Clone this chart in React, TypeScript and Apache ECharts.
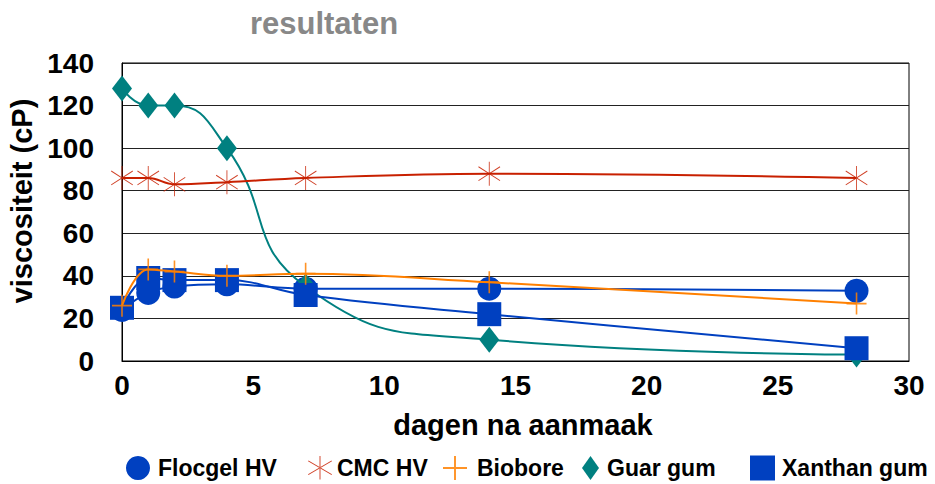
import React, { useEffect, useRef } from "react";
import * as echarts from "echarts";

const days = [0, 1, 2, 4, 7, 14, 28];
const flocgel = [24, 32, 35, 36, 34, 34, 33];
const cmc = [86, 86, 83, 84, 86, 88, 86];
const biobore = [26, 43, 42, 40, 41, 37, 27];
const guar = [128, 120, 120, 100, 35, 10, 3];
const xanthan = [25, 39, 38, 38, 31, 22, 6];

const xTicks = [0, 5, 10, 15, 20, 25, 30];
const yTicks = [0, 20, 40, 60, 80, 100, 120, 140];

const FONT = "'Liberation Sans', Arial, sans-serif";
const BLUE = "#0040c0";
const RED = "#c82000";
const ORANGE = "#ff8000";
const TEAL = "#008080";

const ASTERISK =
  "path://M48,0 L52,0 L52,100 L48,100 Z M-1,22.7 L99,80.7 L101,77.3 L1,19.3 Z M1,80.7 L101,22.7 L99,19.3 L-1,77.3 Z";
const PLUS = "path://M46,0 L54,0 L54,46 L100,46 L100,54 L54,54 L54,100 L46,100 L46,54 L0,54 L0,46 L46,46 Z";

const pairs = (ys: number[]) => days.map((d, i) => [d, ys[i]]);

export default function App() {
  const ref = useRef<HTMLDivElement>(null);
  useEffect(() => {
    if (!ref.current) return;
    const chart = echarts.init(ref.current, null, { renderer: "svg" });
    const legendItem = (name: string, icon: string, left: number, w: number, h: number, gap: number) => ({
      show: true,
      left,
      top: 468 - h / 2,
      padding: 0,
      orient: "horizontal",
      itemWidth: w,
      itemHeight: h,
      itemGap: 0,
      data: [{ name, icon }],
      textStyle: { fontFamily: FONT, fontSize: 23, fontWeight: "bold", color: "#000", padding: [0, 0, 0, gap] },
      selectedMode: false,
    });
    chart.setOption({
      animation: false,
      grid: {
        left: 122,
        right: 26,
        top: 63,
        bottom: 123,
        show: true,
        borderColor: "#000",
        borderWidth: 1,
      },
      graphic: [
        {
          type: "text",
          x: 324,
          y: 23,
          style: {
            text: "resultaten",
            fill: "#888",
            font: `bold 31px ${FONT}`,
            textAlign: "center",
            textVerticalAlign: "middle",
          },
        },
        {
          type: "text",
          x: 22,
          y: 201,
          rotation: Math.PI / 2,
          style: {
            text: "viscositeit (cP)",
            fill: "#000",
            font: `bold 29px ${FONT}`,
            textAlign: "center",
            textVerticalAlign: "middle",
          },
        },
        {
          type: "text",
          x: 523,
          y: 425,
          style: {
            text: "dagen na aanmaak",
            fill: "#000",
            font: `bold 29px ${FONT}`,
            textAlign: "center",
            textVerticalAlign: "middle",
          },
        },
      ],
      legend: [
        legendItem("Flocgel HV", "circle", 126, 24, 24, 3),
        legendItem("CMC HV", ASTERISK, 308, 24, 24, 0),
        legendItem("Biobore", PLUS, 443, 24, 24, 5),
        legendItem("Guar gum", "diamond", 582, 17, 24, 3),
        legendItem("Xanthan gum", "rect", 750, 25, 25, 2),
      ],
      xAxis: {
        type: "value",
        min: xTicks[0],
        max: xTicks[xTicks.length - 1],
        interval: 5,
        axisLine: { show: true, lineStyle: { color: "#000", width: 1 } },
        axisTick: { show: false },
        splitLine: { show: false },
        axisLabel: {
          fontFamily: FONT,
          fontSize: 28,
          fontWeight: "bold",
          color: "#000",
          margin: 10,
        },
      },
      yAxis: {
        type: "value",
        min: yTicks[0],
        max: yTicks[yTicks.length - 1],
        interval: 20,
        axisLine: { show: true, lineStyle: { color: "#000", width: 1 } },
        axisTick: { show: false },
        splitLine: { show: true, lineStyle: { color: "#222", width: 1 } },
        axisLabel: {
          fontFamily: FONT,
          fontSize: 28,
          fontWeight: "bold",
          color: "#000",
          margin: 28,
          padding: [0, 0, 12, 0],
        },
      },
      series: [
        {
          name: "Flocgel HV",
          type: "line",
          data: pairs(flocgel),
          smooth: 0.4,
          symbol: "circle",
          symbolSize: 24,
          lineStyle: { color: BLUE, width: 2 },
          itemStyle: { color: BLUE },
          z: 2,
        },
        {
          name: "Guar gum",
          type: "line",
          data: pairs(guar),
          smooth: 0.5,
          symbol: "diamond",
          symbolSize: [20, 26],
          lineStyle: { color: TEAL, width: 2 },
          itemStyle: { color: TEAL },
          z: 3,
        },
        {
          name: "Xanthan gum",
          type: "line",
          data: pairs(xanthan),
          smooth: 0.4,
          symbol: "rect",
          symbolSize: 24,
          lineStyle: { color: BLUE, width: 2 },
          itemStyle: { color: BLUE },
          z: 4,
        },
        {
          name: "CMC HV",
          type: "line",
          data: pairs(cmc),
          smooth: 0.4,
          symbol: ASTERISK,
          symbolSize: [22, 24],
          lineStyle: { color: RED, width: 2 },
          itemStyle: { color: RED, opacity: 0.85 },
          z: 5,
        },
        {
          name: "Biobore",
          type: "line",
          data: pairs(biobore),
          smooth: 0.4,
          symbol: PLUS,
          symbolSize: [20, 22],
          lineStyle: { color: ORANGE, width: 2 },
          itemStyle: { color: ORANGE, opacity: 0.85 },
          z: 6,
        },
      ],
    });
    return () => chart.dispose();
  }, []);
  return <div ref={ref} style={{ width: 935, height: 484, position: "absolute", left: 0, top: 0 }} />;
}
